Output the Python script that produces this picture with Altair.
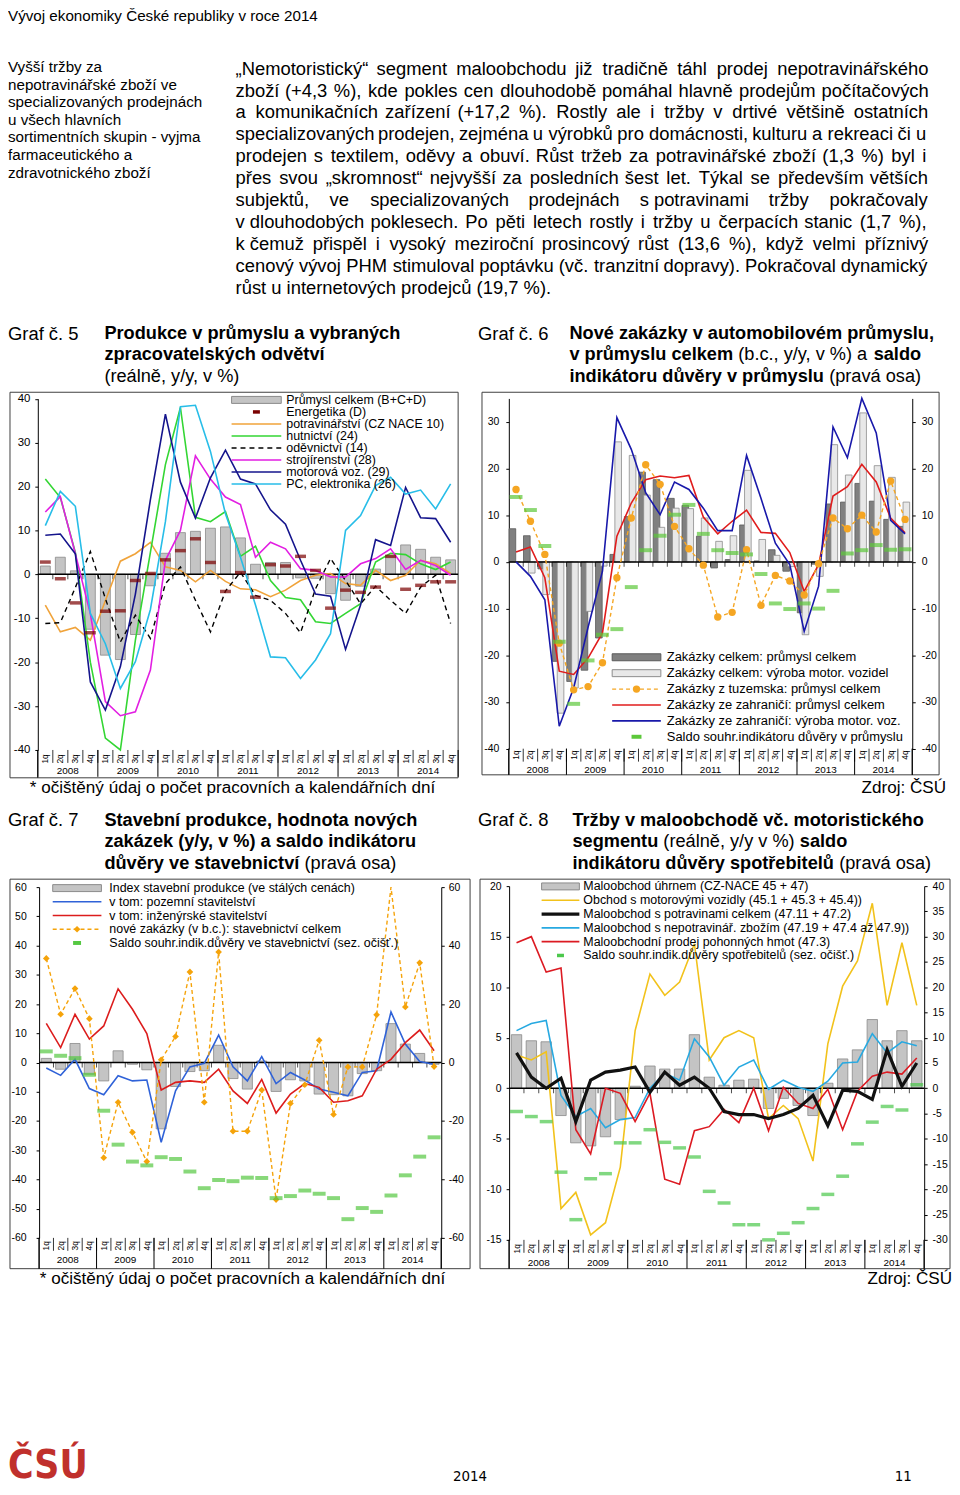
import unicodedata
import pandas as pd
import altair as alt

W, H = 950, 1479
FONT = "Liberation Sans"
NARROW = "Liberation Sans Narrow, DejaVu Sans Condensed, Liberation Sans, sans-serif"

QUARTER_LABELS = ["1q", "2q", "3q", "4q"] * 7
YEARS = ["2008", "2009", "2010", "2011", "2012", "2013", "2014"]
Q = list(range(28))

# ---------------- Graf 5 ----------------
g5_prumysl = [1.9, 3.9, 0.8, -12.5, -18.4, -19.4, -13.7, -2.6, 4.8, 9.5, 9.8, 10.5, 10.8, 8.3,
              2.3, 2.7, 2.7, -0.8, -0.9, -4.4, -5.9, -2.7, 1.2, 4.2, 6.7, 5.7, 3.9, 3.3]
g5_energ = [2.8, -1.0, -6.5, -13.3, -8.4, -8.3, -1.4, 0.2, 3.3, 5.4, 8.1, 2.7, -3.9, 0.4,
            -5.2, 2.2, 1.9, 4.1, 0.9, -7.7, -3.6, -4.1, -2.9, 4.1, -3.4, -2.5, -1.7, -1.7]
g5_potrav = [-7.0, -13.1, -12.1, -15.0, -6.0, 3.0, 4.7, 7.3, 1.7, 0.9, -1.7, 0.9, -1.6, -3.3,
             -3.5, -5.1, -3.6, -1.4, -0.2, 0.2, -2.1, -2.5, 0.9, -1.4, -0.2, 3.2, 2.4, 0.2]
g5_hutn = [21.7, 17.5, 5.0, -20.0, -37.3, -40.3, -15.0, 5.0, 25.0, 38.0, 13.0, 12.0, 14.3, 4.1,
           6.4, -1.4, -5.3, -5.8, -10.8, -11.2, -8.9, -6.7, 2.8, 4.8, 4.5, 2.4, 1.1, 2.8]
g5_odev = [-11.2, -11.0, -3.0, 5.2, -5.5, -15.4, -9.3, -14.6, -2.1, 1.7, -5.9, -13.1, -3.8, 0.5,
           -4.8, -5.9, -8.9, -13.3, -3.3, 3.6, -1.4, -6.7, -2.7, -5.9, -8.9, -2.9, -0.2, -11.2]
g5_stroj = [14.2, 17.7, 4.7, -9.0, -29.0, -32.2, -31.3, -21.8, 3.2, 10.0, 27.0, 21.7, 17.6, 15.9,
            3.9, 7.3, 5.8, 1.3, 0.9, -0.6, -0.6, 2.4, 3.6, 5.8, 1.1, 3.2, 2.0, -0.2]
g5_motor = [8.9, 9.2, 4.7, -24.5, -30.9, -21.0, -4.5, 17.0, 36.5, 21.0, 12.8, 22.0, 28.3, 21.7,
            20.6, 14.7, 11.4, 3.2, -4.5, -5.0, -17.1, -7.0, 7.9, 6.6, 19.8, 12.9, 12.7, 7.3]
g5_pc = [11.1, 18.9, 15.5, -8.9, -15.8, -26.0, -19.9, -8.0, 12.0, 38.2, 38.5, 28.0, 13.8, 3.9,
         -7.0, -18.8, -19.0, -23.7, -19.5, -13.5, 10.0, 13.4, 20.2, 22.1, 18.3, 19.2, 14.9, 20.6]

# ---------------- Graf 6 ----------------
g6_celkem = [7.1, 5.6, -1.5, -21.3, -25.6, -23.2, -16.3, 1.6, 9.7, 19.2, 17.6, 13.6, 12.1, 5.5,
             -1.3, 0.5, 7.9, 0.2, 2.6, -2.0, -10.9, -0.5, 12.4, 12.8, 16.8, 13.0, 9.1, 7.6]
g6_motor = [0.0, -2.4, -7.0, -32.4, -27.0, -10.6, -0.9, 25.7, 22.8, 14.3, 7.4, 11.5, 11.4, 9.4,
            4.4, 5.6, 19.6, 4.8, 1.4, -1.0, -15.6, -3.1, 25.1, 18.6, 31.9, 20.6, 18.1, 12.8]
g6_tuzem = [15.5, 8.7, 1.6, -17.4, -27.4, -26.7, -21.6, -3.4, 9.4, 20.8, 16.6, 7.6, 2.8, -0.7,
            -11.8, -10.8, 2.6, -9.3, -2.9, -4.1, -7.1, -0.4, 9.4, 7.1, 10.0, 6.4, 17.3, 9.1]
g6_zahr = [2.1, 3.2, -3.4, -23.4, -24.1, -20.6, -15.2, 5.5, 12.6, 17.6, 18.4, 18.0, 18.5, 9.6,
           6.0, 8.7, 11.1, 6.3, 6.1, 2.0, -6.3, -0.6, 14.1, 16.1, 20.9, 17.1, 9.4, 6.2]
g6_zahr_motor = [0.0, -3.1, -8.1, -35.2, -27.0, -14.0, -2.0, 30.9, 24.1, 14.8, 10.1, 17.1, 15.5, 11.5,
                 6.7, 6.7, 22.8, 13.6, 4.0, -0.6, -14.9, -5.2, 28.9, 22.3, 35.0, 27.6, 8.9, 6.0]
g6_saldo = [13.9, 11.1, 3.4, -17.1, -30.4, -21.1, -15.6, -14.4, -5.4, 2.5, 5.6, 10.1, 12.2, 6.0,
            2.5, 1.9, 1.6, -2.6, -8.9, -10.1, -8.9, -10.0, -6.2, 1.8, 2.5, 3.6, 2.6, 2.7]

# ---------------- Graf 7 ----------------
g7_index = [1.4, -2.3, 6.5, -4.0, -6.3, 4.0, -0.6, -2.5, -22.7, -8.2, -3.1, -2.8, 5.9, -5.5,
            -9.1, 0.5, -9.9, -5.9, -6.3, -10.8, -11.0, -11.4, -3.8, -2.8, 13.3, 6.3, 3.1, -0.6]
g7_pozem = [-1.9, -4.4, 1.1, -8.9, -11.0, -4.5, -6.3, -6.0, -27.3, -9.7, -1.5, -0.3, 9.4, -1.5,
            -6.3, 2.0, -7.2, -3.4, -6.0, -9.1, -10.2, -11.4, -3.4, -2.8, 17.3, 6.3, 0.3, -0.6]
g7_inzen = [13.4, 5.1, 16.5, 8.0, 12.5, 25.2, 18.2, 9.9, -9.4, -6.8, -6.3, -6.8, -2.3, -9.7,
            -14.0, -5.8, -17.3, -10.8, -7.2, -8.5, -13.6, -13.1, -11.4, -2.3, 1.1, 6.8, 11.1, 4.0]
g7_zakazky = [35.6, 16.5, 25.3, 15.0, -32.6, -13.6, -23.9, -33.9, 0.9, 8.9, 31.0, -13.6, 37.8, -23.5,
              -23.5, -9.4, -46.9, -14.0, -7.6, 7.6, -17.8, -1.5, -1.5, 16.3, 68.0, 19.0, 34.1, -1.4]
g7_saldo = [3.8, 2.3, 1.5, -4.2, -16.5, -28.1, -33.9, -35.2, -32.4, -33.0, -37.3, -43.0, -40.2, -40.6,
            -39.4, -39.5, -46.4, -45.7, -43.8, -44.9, -46.4, -53.6, -49.8, -51.1, -45.5, -38.6, -32.2, -25.6]

# ---------------- Graf 8 ----------------
g8_uhrn = [5.3, 4.7, 4.6, -2.7, -5.4, -5.7, -4.8, -3.1, 0.2, 2.2, 1.9, 1.9, 5.3, 1.1,
           0.3, 0.8, 0.9, -2.0, -1.0, -1.7, -2.7, 0.5, 2.9, 3.8, 6.8, 4.7, 5.7, 4.7]
g8_motor = [3.3, 2.8, 3.6, -11.9, -10.3, -14.5, -13.3, -7.8, 5.7, 11.3, 9.2, 10.5, 14.3, 2.8,
            5.0, 5.7, 5.0, -3.0, -1.7, -3.0, -7.2, 4.4, 10.1, 12.6, 18.3, 8.2, 14.4, 8.2]
g8_potrav = [3.5, 1.1, 0.0, 1.0, -3.3, 0.8, 1.6, 1.8, 2.1, -0.4, 1.6, 0.3, 1.1, 0.0,
             -2.3, -2.6, -2.6, -3.0, -2.6, -2.0, -0.7, -3.7, -0.2, -0.3, -1.1, 3.8, 0.2, 2.5]
g8_nepotrav = [5.7, 6.4, 6.7, -0.7, -2.8, -2.0, -3.9, -3.1, -2.9, 0.0, 1.5, 0.8, 4.9, 3.1,
               0.3, 2.1, 2.8, -0.1, 0.8, 0.1, -0.3, 0.7, 2.5, 2.6, 5.4, 3.5, 4.6, 4.2]
g8_phm = [14.4, 15.0, 11.5, 11.9, -4.1, -6.5, 0.0, -0.5, -3.3, -0.5, -9.0, -9.5, -4.2, -3.8,
          -2.1, -3.4, 0.0, -4.2, 0.1, -1.5, -2.0, -0.1, -4.1, -0.3, 1.2, 1.6, 1.4, 3.0]
g8_saldo = [-4.6, -5.6, -6.6, -16.6, -26.0, -17.9, -16.9, -10.8, -10.8, -8.2, -10.7, -11.8, -13.6, -20.4,
            -22.7, -27.0, -27.0, -30.2, -28.7, -26.6, -23.8, -21.0, -17.4, -11.0, -6.7, -3.6, -4.3, 0.7]

# ---------------- texts ----------------
HEADER = "Vývoj ekonomiky České republiky v roce 2014"
SIDE_NOTE = ["Vyšší tržby za", "nepotravinářské zboží ve", "specializovaných prodejnách",
             "u všech hlavních", "sortimentních skupin - vyjma", "farmaceutického a",
             "zdravotnického zboží"]
PARAGRAPH = [
    "„Nemotoristický“ segment maloobchodu již tradičně táhl prodej nepotravinářského",
    "zboží (+4,3 %), kde pokles cen dlouhodobě pomáhal hlavně prodejům počítačových",
    "a komunikačních zařízení (+17,2 %). Rostly ale i tržby v drtivé většině ostatních",
    "specializovaných prodejen, zejména u výrobků pro domácnosti, kulturu a rekreaci či u",
    "prodejen s textilem, oděvy a obuví. Růst tržeb za potravinářské zboží (1,3 %) byl i",
    "přes svou „skromnost“ nejvyšší za posledních šest let. Týkal se především větších",
    "subjektů, ve specializovaných prodejnách s\u00a0potravinami tržby pokračovaly",
    "v\u00a0dlouhodobých poklesech. Po pěti letech rostly i tržby u čerpacích stanic (1,7 %),",
    "k\u00a0čemuž přispěl i vysoký meziroční prosincový růst (13,6 %), když velmi příznivý",
    "cenový vývoj PHM stimuloval poptávku (vč. tranzitní dopravy). Pokračoval dynamický",
    "růst u internetových prodejců (19,7 %).",
]
FOOTNOTE = "* očištěný údaj o počet pracovních a kalendářních dní"
SOURCE = "Zdroj: ČSÚ"

REG = {' ': 278, '\u00a0': 278, 'a': 556, 'b': 556, 'c': 500, 'd': 556, 'e': 556, 'f': 278, 'g': 556,
       'h': 556, 'i': 222, 'j': 222, 'k': 500, 'l': 222, 'm': 833, 'n': 556, 'o': 556, 'p': 556,
       'q': 556, 'r': 333, 's': 500, 't': 278, 'u': 556, 'v': 500, 'w': 722, 'x': 500, 'y': 500,
       'z': 500, 'A': 667, 'B': 667, 'C': 722, 'D': 722, 'E': 667, 'F': 611, 'G': 778, 'H': 722,
       'I': 278, 'J': 500, 'K': 667, 'L': 556, 'M': 833, 'N': 722, 'O': 778, 'P': 667, 'Q': 778,
       'R': 722, 'S': 667, 'T': 611, 'U': 722, 'V': 667, 'W': 944, 'X': 667, 'Y': 667, 'Z': 611,
       '.': 278, ',': 278, '(': 333, ')': 333, '%': 889, '+': 584, '-': 333, ':': 278, '/': 278,
       '*': 389, '„': 333, '“': 333}
BOLD = {' ': 278, 'a': 556, 'b': 611, 'c': 556, 'd': 611, 'e': 556, 'f': 333, 'g': 611, 'h': 611,
        'i': 278, 'j': 278, 'k': 556, 'l': 278, 'm': 889, 'n': 611, 'o': 611, 'p': 611, 'q': 611,
        'r': 389, 's': 556, 't': 333, 'u': 611, 'v': 556, 'w': 778, 'x': 556, 'y': 556, 'z': 500,
        'A': 722, 'B': 722, 'C': 722, 'D': 722, 'E': 667, 'F': 611, 'G': 778, 'H': 722, 'I': 278,
        'J': 556, 'K': 722, 'L': 611, 'M': 833, 'N': 722, 'O': 778, 'P': 667, 'R': 722, 'S': 667,
        'T': 611, 'U': 722, 'V': 667, 'Z': 611, '.': 278, ',': 278, '(': 333, ')': 333, '%': 889,
        '+': 584, '-': 333, ':': 333, '/': 278}
for d in "0123456789":
    REG[d] = 556
    BOLD[d] = 556


def tw(s, size, bold=False):
    tbl = BOLD if bold else REG
    tot = 0
    for ch in s:
        if ch in tbl:
            tot += tbl[ch]
        else:
            tot += tbl.get(unicodedata.normalize('NFD', ch)[0], 556)
    return tot * size / 1000.0


DUMMY = pd.DataFrame({'a': [0]})


def text_layer(rows, size, bold=False, align='left', color='black', font=FONT, baseline='middle'):
    df = pd.DataFrame(rows, columns=['x', 'y', 't'])
    return alt.Chart(df).mark_text(align=align, baseline=baseline, fontSize=size, font=font,
                                   fontWeight='bold' if bold else 'normal', color=color).encode(
        x=alt.X('x:Q', scale=None, axis=None), y=alt.Y('y:Q', scale=None, axis=None), text='t:N')


def prect(x0, y0, x1, y1, fill='transparent', stroke='#404040', sw=1.0):
    return alt.Chart(DUMMY).mark_rect(fill=fill, stroke=stroke, strokeWidth=sw).encode(
        x=alt.value(x0), x2=alt.value(x1), y=alt.value(y0), y2=alt.value(y1))


def prule_h(x0, x1, y, color, sw, dash=None):
    kw = dict(color=color, strokeWidth=sw)
    if dash:
        kw['strokeDash'] = dash
    return alt.Chart(DUMMY).mark_rule(**kw).encode(x=alt.value(x0), x2=alt.value(x1), y=alt.value(y))


def prule_v(x, y0, y1, color='black', sw=1.0):
    return alt.Chart(DUMMY).mark_rule(color=color, strokeWidth=sw).encode(
        x=alt.value(x), y=alt.value(y0), y2=alt.value(y1))


# panel geometry (inner coordinates = page - 8)
P5 = dict(x0=30, x1=453, yb=742, yt=388.5, dom=[-40, 40])
P6 = dict(x0=504, x1=910, yb=740.7, yt=388.2, dom=[-40, 35])
P7 = dict(x0=31.3, x1=436, yb=1233, yt=880, dom=[-60, 60])
P8 = dict(x0=504.3, x1=922, yb=1235, yt=879, dom=[-15, 20], rdom=[-30, 40])


def xs(P):
    return alt.Scale(domain=[-0.5, 27.5], range=[P['x0'], P['x1']], nice=False, zero=False)


def ysc(P, right=False):
    dom = P['rdom'] if right else P['dom']
    return alt.Scale(domain=dom, range=[P['yb'], P['yt']], nice=False, zero=False, clamp=True)


def xe(P, f='q'):
    return alt.X(f + ':Q', scale=xs(P), axis=None)


def ye(P, f='v', right=False):
    return alt.Y(f + ':Q', scale=ysc(P, right), axis=None)


def sdf(vals):
    return pd.DataFrame({'q': Q, 'v': vals})


def line(P, vals, color, sw=1.6, dash=None, right=False):
    kw = dict(color=color, strokeWidth=sw)
    if dash:
        kw['strokeDash'] = dash
    return alt.Chart(sdf(vals)).mark_line(**kw).encode(x=xe(P), y=ye(P, right=right))


def bars(P, vals, lo, hi, fill, stroke, sw=0.8):
    df = pd.DataFrame({'l': [q + lo for q in Q], 'r': [q + hi for q in Q], 'v': vals, 'z': [0] * 28})
    return alt.Chart(df).mark_rect(fill=fill, stroke=stroke, strokeWidth=sw).encode(
        x=xe(P, 'l'), x2=alt.X2('r'), y=ye(P), y2=alt.Y2('z'))


def ticks(P, vals, color, size, th, right=False):
    return alt.Chart(sdf(vals)).mark_tick(orient='horizontal', size=size, thickness=th, color=color).encode(
        x=xe(P), y=ye(P, right=right))


def points(P, vals, color, shape, size, maxv=None):
    ch = alt.Chart(sdf(vals)).mark_point(shape=shape, filled=True, size=size, color=color, opacity=1)
    if maxv is not None:
        ch = ch.transform_filter(alt.datum.v <= maxv)
    return ch.encode(x=xe(P), y=ye(P))


def yaxis(P, values, orient, pad, fs, right=False):
    off = -P['x0'] if orient == 'left' else P['x1'] - W
    ax = alt.Axis(orient=orient, offset=off, values=values, tickSize=3, tickColor='black', tickWidth=1,
                  domain=True, domainColor='black', domainWidth=1, labelFont=FONT, labelFontSize=fs,
                  labelColor='black', labelPadding=pad, grid=False, title=None, labelOverlap=False,
                  labelExpr="'' + datum.value")
    return alt.Chart(pd.DataFrame({'v': values})).mark_point(opacity=0, size=1).encode(
        x=alt.value(P['x0'] + 5), y=alt.Y('v:Q', scale=ysc(P, right), axis=ax))


def xdecor(P, qlab_y, year_y, frame_bottom):
    layers = []
    layers.append(alt.Chart(pd.DataFrame({'a': [-0.5], 'b': [27.5], 'z': [0]})).mark_rule(
        color='black', strokeWidth=1.5).encode(x=xe(P, 'a'), x2=alt.X2('b'), y=ye(P, 'z')))
    bnd = pd.DataFrame({'b': [i + 0.5 for i in range(27)], 'z': [0] * 27})
    layers.append(alt.Chart(bnd).mark_tick(orient='vertical', size=5, thickness=1, color='black',
                                           yOffset=2.5).encode(x=xe(P, 'b'), y=ye(P, 'z')))
    layers.append(alt.Chart(bnd).mark_rule(color='black', strokeWidth=0.8).encode(
        x=xe(P, 'b'), y=alt.value(P['yb']), y2=alt.value(P['yb'] + 13)))
    seps = pd.DataFrame({'b': [-0.5 + 4 * k for k in range(8)]})
    layers.append(alt.Chart(seps).mark_rule(color='black', strokeWidth=1).encode(
        x=xe(P, 'b'), y=alt.value(P['yb']), y2=alt.value(frame_bottom)))
    layers.append(alt.Chart(pd.DataFrame({'q': Q, 't': QUARTER_LABELS})).mark_text(
        angle=270, fontSize=8.5, font=FONT, align='center', baseline='middle', color='black').encode(
        x=xe(P), y=alt.value(qlab_y), text='t:N'))
    layers.append(alt.Chart(pd.DataFrame({'c': [1.5 + 4 * k for k in range(7)], 't': YEARS})).mark_text(
        fontSize=10, font=FONT, align='center', baseline='middle', color='black').encode(
        x=xe(P, 'c'), y=alt.value(year_y), text='t:N'))
    return layers


def legend(items, sx0, sx1, tx, y0, dy, fs):
    layers = []
    rows = []
    cx = (sx0 + sx1) / 2.0
    for k, (kind, label, st) in enumerate(items):
        y = y0 + dy * k
        rows.append((tx, y, label))
        if kind == 'rect':
            layers.append(prect(sx0, y - 3.5, sx1, y + 3.5, fill=st['fill'], stroke=st['stroke'], sw=1))
        elif kind == 'line':
            layers.append(prule_h(sx0, sx1, y, st['color'], st.get('sw', 1.6), st.get('dash')))
        elif kind == 'dash':
            layers.append(prule_h(cx - st['w'] / 2, cx + st['w'] / 2, y, st['color'], st['th']))
        elif kind == 'linept':
            layers.append(prule_h(sx0, sx1, y, st['color'], st.get('sw', 1.4), st.get('dash')))
            layers.append(alt.Chart(DUMMY).mark_point(shape=st['shape'], filled=True, size=st['size'],
                                                      color=st['color'], opacity=1).encode(
                x=alt.value(cx), y=alt.value(y)))
    layers.append(text_layer(rows, fs))
    return layers


def title_rows(lines, x0, y0, dy, size):
    b, n = [], []
    for i, parts in enumerate(lines):
        x = x0
        y = y0 + dy * i
        for txt, bold in parts:
            lead = len(txt) - len(txt.lstrip(' '))
            xx = x + tw(' ' * lead, size, bold)
            (b if bold else n).append((xx, y, txt.strip(' ')))
            x += tw(txt, size, bold)
    return b, n


layers = []

GRAY_F, GRAY_S = '#c4c4c4', '#8a8a8a'

# ================= Graf 5 =================
layers.append(prect(2, 382, 453, 770))
layers.append(bars(P5, g5_prumysl, -0.33, 0.33, GRAY_F, GRAY_S))
layers += xdecor(P5, 751, 763, 769)
layers.append(line(P5, g5_potrav, '#f0a33a'))
layers.append(line(P5, g5_hutn, '#33d633'))
layers.append(line(P5, g5_odev, '#000000', 1.4, [5, 4]))
layers.append(line(P5, g5_stroj, '#e21ee2'))
layers.append(line(P5, g5_motor, '#14148c'))
layers.append(line(P5, g5_pc, '#27bde8'))
layers.append(ticks(P5, g5_energ, '#7a0000', 11, 3.5))
layers.append(yaxis(P5, list(range(-40, 41, 10)), 'left', 5, 11.5))
layers.append(prule_v(P5['x0'], P5['yb'], 770))
layers += legend([
    ('rect', 'Průmysl celkem (B+C+D)', dict(fill=GRAY_F, stroke=GRAY_S)),
    ('dash', 'Energetika (D)', dict(color='#7a0000', w=7, th=3.5)),
    ('line', 'potravinářství (CZ NACE 10)', dict(color='#f0a33a')),
    ('line', 'hutnictví (24)', dict(color='#33d633')),
    ('line', 'oděvnictví (14)', dict(color='#000000', sw=1.4, dash=[5, 4])),
    ('line', 'strojírenství (28)', dict(color='#e21ee2')),
    ('line', 'motorová voz. (29)', dict(color='#14148c')),
    ('line', 'PC, elektronika (26)', dict(color='#27bde8')),
], 225, 275, 280, 389.7, 12.1, 12.5)

# ================= Graf 6 =================
layers.append(prect(477, 382, 937, 767))
layers.append(bars(P6, g6_celkem, -0.48, -0.02, '#808080', '#5a5a5a'))
layers.append(bars(P6, g6_motor, -0.14, 0.32, '#e8e8e8', '#8c8c8c'))
layers += xdecor(P6, 747, 762, 767)
layers.append(line(P6, g6_zahr, '#e01c1c'))
layers.append(line(P6, g6_zahr_motor, '#1818aa'))
layers.append(line(P6, g6_tuzem, '#f5a623', 1.4, [4, 3]))
layers.append(points(P6, g6_tuzem, '#f5a623', 'circle', 55))
layers.append(ticks(P6, g6_saldo, '#5cc83a', 13, 4))
layers.append(yaxis(P6, list(range(-40, 31, 10)), 'left', 7, 10.5))
layers.append(yaxis(P6, list(range(-40, 31, 10)), 'right', 6, 10.5))
layers.append(prule_v(P6['x0'], P6['yb'], 767))
layers.append(prule_v(P6['x1'], P6['yb'], 767))
layers += legend([
    ('rect', 'Zakázky celkem: průmysl celkem', dict(fill='#808080', stroke='#5a5a5a')),
    ('rect', 'Zakázky celkem: výroba motor. vozidel', dict(fill='#e8e8e8', stroke='#8c8c8c')),
    ('linept', 'Zakázky z tuzemska: průmysl celkem', dict(color='#f5a623', dash=[4, 3], shape='circle', size=55)),
    ('line', 'Zakázky ze zahraničí:  průmysl celkem', dict(color='#e01c1c')),
    ('line', 'Zakázky ze zahraničí:  výroba motor.  voz.', dict(color='#1818aa')),
    ('dash', 'Saldo souhr.indikátoru důvěry v průmyslu', dict(color='#5cc83a', w=10, th=4)),
], 608, 657, 663, 648.7, 16, 13)

# ================= Graf 7 =================
layers.append(prect(2, 872, 465, 1264))
layers.append(bars(P7, g7_index, -0.35, 0.35, GRAY_F, GRAY_S))
layers += xdecor(P7, 1241, 1255, 1264)
layers.append(line(P7, g7_pozem, '#2f62d8'))
layers.append(line(P7, g7_inzen, '#dc1c1c'))
layers.append(line(P7, g7_zakazky, '#f5a30a', 1.4, [4, 3]))
layers.append(points(P7, g7_zakazky, '#f5a30a', 'diamond', 45, maxv=60))
layers.append(ticks(P7, g7_saldo, '#55c842', 13, 4))
layers.append(yaxis(P7, list(range(-60, 61, 10)), 'left', 10, 10.5))
layers.append(yaxis(P7, list(range(-60, 61, 20)), 'right', 4, 10.5))
layers.append(prule_v(P7['x0'], P7['yb'], 1264))
layers.append(prule_v(P7['x1'], P7['yb'], 1264))
layers += legend([
    ('rect', 'Index stavební produkce (ve stálých cenách)', dict(fill=GRAY_F, stroke=GRAY_S)),
    ('line', 'v tom: pozemní stavitelství', dict(color='#2f62d8')),
    ('line', 'v tom: inženýrské stavitelství', dict(color='#dc1c1c')),
    ('linept', 'nové zakázky (v b.c.): stavebnictví celkem', dict(color='#f5a30a', dash=[4, 3], shape='diamond', size=45)),
    ('dash', 'Saldo souhr.indik.důvěry ve stavebnictví (sez. očišť.)', dict(color='#55c842', w=8, th=4)),
], 45, 94, 102, 881, 13.8, 12.5)

# ================= Graf 8 =================
layers.append(prect(475, 872, 948, 1264))
layers.append(bars(P8, g8_uhrn, -0.35, 0.35, GRAY_F, GRAY_S))
layers += xdecor(P8, 1244, 1258, 1264)
layers.append(line(P8, g8_motor, '#f2c21b'))
layers.append(line(P8, g8_nepotrav, '#27a9e1'))
layers.append(line(P8, g8_phm, '#dc1a22'))
layers.append(line(P8, g8_potrav, '#111111', 3.2))
layers.append(ticks(P8, g8_saldo, '#4cc84c', 13, 3.5, right=True))
layers.append(yaxis(P8, list(range(-15, 21, 5)), 'left', 5, 10.5))
layers.append(yaxis(P8, list(range(-30, 41, 5)), 'right', 5, 10.5, right=True))
layers.append(prule_v(P8['x0'], P8['yb'], 1264))
layers.append(prule_v(P8['x1'], P8['yb'], 1264))
layers += legend([
    ('rect', 'Maloobchod úhrnem (CZ-NACE 45 + 47)', dict(fill=GRAY_F, stroke=GRAY_S)),
    ('line', 'Obchod s motorovými vozidly (45.1 + 45.3 + 45.4))', dict(color='#f2c21b')),
    ('line', 'Maloobchod s potravinami celkem (47.11 + 47.2)', dict(color='#111111', sw=3.2)),
    ('line', 'Maloobchod s nepotravinář. zbožím (47.19 + 47.4 až 47.9))', dict(color='#27a9e1')),
    ('line', 'Maloobchodní prodej pohonných hmot (47.3)', dict(color='#dc1a22')),
    ('dash', 'Saldo souhr.indik.důvěry spotřebitelů (sez. očišť.)', dict(color='#4cc84c', w=7, th=3.5)),
], 537, 575, 579, 879.3, 13.9, 12.5)

# ================= page texts =================
layers.append(text_layer([(0, 3.5, HEADER)], 15.3))
layers.append(text_layer([(0, 54.7 + 17.7 * i, s) for i, s in enumerate(SIDE_NOTE)], 15.3))

PSIZE = 18.5
FUDGE = 0.985
prows = []
for i, ln in enumerate(PARAGRAPH):
    y = 56.3 + 22.1 * i
    if i == len(PARAGRAPH) - 1:
        prows.append((229, y, ln))
        continue
    words = ln.split(' ')
    widths = [tw(w, PSIZE) * FUDGE for w in words]
    gap = (924 - 229 - sum(widths)) / (len(words) - 1)
    gap = max(gap, 2.0)
    x = 229
    for w_, wd in zip(words, widths):
        prows.append((x, y, w_))
        x += wd + gap
layers.append(text_layer(prows, PSIZE))

TSIZE = 18.3
graf_rows = [(0, 323, "Graf č. 5"), (473, 323, "Graf č. 6"), (0, 813, "Graf č. 7"), (473, 813, "Graf č. 8")]
layers.append(text_layer(graf_rows, 18.5))

T5 = [[("Produkce v průmyslu a vybraných", True)], [("zpracovatelských odvětví", True)],
      [("(reálně, y/y, v %)", False)]]
T6 = [[("Nové zakázky v automobilovém průmyslu,", True)],
      [("v průmyslu celkem", True), (" (b.c., y/y, v %) a ", False), ("saldo", True)],
      [("indikátoru důvěry v průmyslu", True), (" (pravá osa)", False)]]
T7 = [[("Stavební produkce, hodnota nových", True)], [("zakázek (y/y, v %) a saldo indikátoru", True)],
      [("důvěry ve stavebnictví", True), (" (pravá osa)", False)]]
T8 = [[("Tržby v maloobchodě vč. motoristického", True)],
      [("segmentu", True), (" (reálně, y/y v %) ", False), ("saldo", True)],
      [("indikátoru důvěry spotřebitelů", True), (" (pravá osa)", False)]]
allb, alln = [], []
for T, x0, y0 in [(T5, 97, 323), (T6, 565, 323), (T7, 97, 813), (T8, 568, 813)]:
    b, n = title_rows(T, x0, y0, 22, TSIZE)
    allb += b
    alln += n
layers.append(text_layer(allb, TSIZE, bold=True))
layers.append(text_layer(alln, TSIZE))

layers.append(text_layer([(22, 780, FOOTNOTE), (32, 1274, FOOTNOTE)], 17.2))
layers.append(text_layer([(944, 780, SOURCE), (950, 1274, SOURCE)], 17.2, align='right'))

# footer
layers.append(text_layer([(0, 1475, "ČSÚ")], 39, bold=True, color='#c0302c', font=NARROW,
                         baseline='alphabetic'))
layers.append(text_layer([(465, 1473, "2014"), (901, 1473, "11")], 15, align='center', font=NARROW))

chart = alt.layer(*layers).resolve_scale(x='independent', y='independent').properties(
    width=W, height=H, padding=0, background='white', autosize=alt.AutoSizeParams(type='none')
).configure_view(strokeWidth=0, stroke='transparent')

chart.save("out.html", embed_options={"renderer": "svg", "actions": False})
